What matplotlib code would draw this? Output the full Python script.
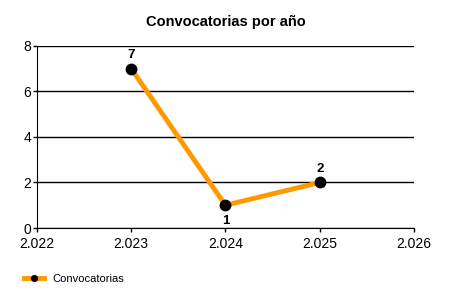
import matplotlib
matplotlib.use("Agg")
import matplotlib.pyplot as plt
from matplotlib.ticker import FuncFormatter

years = [2023, 2024, 2025]
counts = [7, 1, 2]
label_pos = ["above", "below", "above"]

plt.rcParams['font.family'] = ['Liberation Sans', 'DejaVu Sans']

fig = plt.figure(figsize=(4.5, 3), dpi=100)
ax = fig.add_axes([0.082, 0.24, 0.838, 0.607])

line, = ax.plot(years, counts, color='#FF9900', linewidth=3.5, marker='o',
                markersize=7.5, markerfacecolor='black', markeredgecolor='black',
                label='Convocatorias', zorder=3)

for x, y, p in zip(years, counts, label_pos):
    off = 10 if p == "above" else -11
    ax.annotate(str(y), (x, y), xytext=(0, off), textcoords='offset points',
                ha='center', va='center', fontsize=9.5, fontweight='bold')

ax.set_xlim(2022, 2026)
ax.set_ylim(0, 8)
ax.set_xticks([2022, 2023, 2024, 2025, 2026])
ax.set_yticks([0, 2, 4, 6, 8])
ax.xaxis.set_major_formatter(FuncFormatter(lambda v, p: f"{int(v)//1000}.{int(v)%1000:03d}"))
ax.yaxis.grid(True, color='black', linewidth=1)
ax.set_axisbelow(True)
for s in ['top', 'right']:
    ax.spines[s].set_visible(False)
ax.tick_params(labelsize=10, length=3, width=1)
ax.tick_params(axis='x', pad=3.5)
ax.tick_params(axis='y', pad=1)

ax.set_title('Convocatorias por año', fontsize=10.5, fontweight='bold', pad=14)

fig.legend(handles=[line], loc='lower left', bbox_to_anchor=(0.03, 0.02),
           frameon=False, fontsize=8, handlelength=1.8, markerscale=0.55)

fig.savefig('out.png', dpi=100)
